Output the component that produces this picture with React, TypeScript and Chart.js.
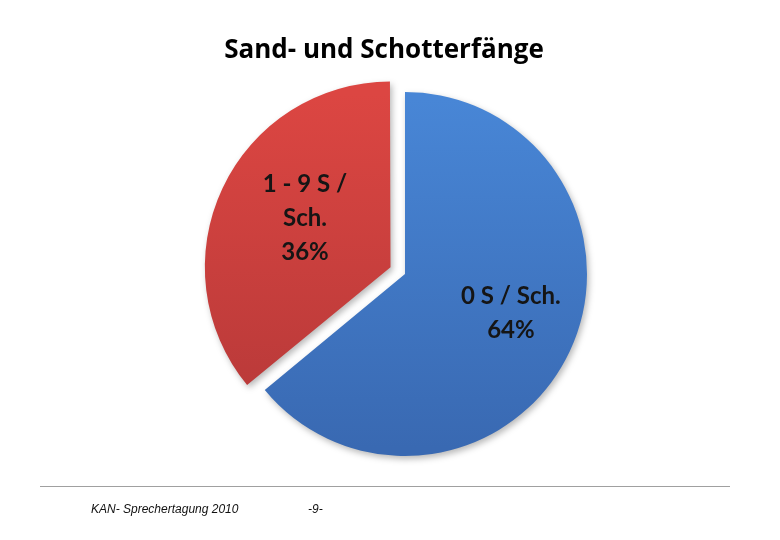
import React, { useEffect, useRef } from "react";
import { Chart, ArcElement, PieController } from "chart.js";

Chart.register(ArcElement, PieController);

const TITLE = "Sand- und Schotterfänge";
const CATEGORIES = ["0 S / Sch.", "1 - 9 S / Sch."];
const LABEL_LINES = [["0 S / Sch."], ["1 - 9 S /", "Sch."]];
const VALUES = [64, 36];
// Chart.js 4 translates an arc by offset / 4
const OFFSETS = [0, 64];
const FOOTER_LEFT = "KAN- Sprechertagung 2010";
const FOOTER_PAGE = "-9-";

const COLORS_TOP = ["#4886d6", "#dc4642"];
const COLORS_BOTTOM = ["#3969b2", "#b53838"];
const LABEL_RADIUS = [0.62, 0.542];
const LABEL_ANGLE_TWEAK = [-0.087, 0.0707];

const decorPlugin = {
  id: "decor",
  beforeDatasetsDraw(chart: any) {
    const ctx = chart.ctx;
    ctx.save();
    ctx.shadowColor = "rgba(0,0,0,0.28)";
    ctx.shadowBlur = 6;
    ctx.shadowOffsetX = 2;
    ctx.shadowOffsetY = 3;
  },
  afterDatasetsDraw(chart: any) {
    const ctx = chart.ctx;
    ctx.restore();
    const meta = chart.getDatasetMeta(0);
    ctx.save();
    ctx.fillStyle = "#151515";
    ctx.font = "bold 24px Lato";
    ctx.textAlign = "center";
    ctx.textBaseline = "middle";
    meta.data.forEach((el: any, i: number) => {
      const p = el.getProps(["x", "y", "startAngle", "endAngle", "outerRadius"], true);
      const mid = (p.startAngle + p.endAngle) / 2 + LABEL_ANGLE_TWEAK[i];
      const dist = p.outerRadius * LABEL_RADIUS[i] + OFFSETS[i] / 4;
      const cx = p.x + Math.cos(mid) * dist;
      const cy = p.y + Math.sin(mid) * dist;
      const lines = [...LABEL_LINES[i], `${VALUES[i]}%`];
      const lh = 34;
      const start = cy - ((lines.length - 1) * lh) / 2;
      lines.forEach((t, k) => ctx.fillText(t, cx, start + k * lh));
    });
    // title
    ctx.fillStyle = "#000";
    ctx.font = "bold 26px 'Open Sans'";
    ctx.textBaseline = "alphabetic";
    ctx.fillText(TITLE, 384, 58);
    // footer
    ctx.strokeStyle = "#a0a0a0";
    ctx.lineWidth = 1;
    ctx.beginPath();
    ctx.moveTo(40, 486.5);
    ctx.lineTo(730, 486.5);
    ctx.stroke();
    ctx.fillStyle = "#111";
    ctx.font = "italic 12px 'Liberation Sans', Arial";
    ctx.textAlign = "left";
    ctx.textBaseline = "middle";
    ctx.fillText(FOOTER_LEFT, 91, 510);
    ctx.fillText(FOOTER_PAGE, 308, 510);
    ctx.restore();
  },
};

export default function App() {
  const ref = useRef<HTMLCanvasElement | null>(null);
  useEffect(() => {
    if (!ref.current) return;
    const chart = new Chart(ref.current, {
      type: "pie",
      data: {
        labels: CATEGORIES,
        datasets: [
          {
            data: VALUES,
            offset: OFFSETS,
            borderWidth: 0,
            backgroundColor: (c: any) => {
              const ch = c.chart;
              const area = ch.chartArea;
              const i = c.dataIndex ?? 0;
              if (!area) return COLORS_TOP[i];
              const g = ch.ctx.createLinearGradient(0, area.top + 40, 0, area.bottom - 40);
              g.addColorStop(0, COLORS_TOP[i]);
              g.addColorStop(1, COLORS_BOTTOM[i]);
              return g;
            },
          },
        ],
      },
      options: {
        responsive: false,
        animation: false,
        devicePixelRatio: 1,
        layout: { padding: { left: 191, right: 161, top: 60, bottom: 52 } },
        plugins: { legend: { display: false }, tooltip: { enabled: false } },
      } as any,
      plugins: [decorPlugin],
    });
    return () => chart.destroy();
  }, []);
  return (
    <div style={{ position: "absolute", left: 0, top: 0, width: 780, height: 540, background: "#fff" }}>
      <canvas ref={ref} width={780} height={540} style={{ display: "block", width: 780, height: 540 }} />
    </div>
  );
}
